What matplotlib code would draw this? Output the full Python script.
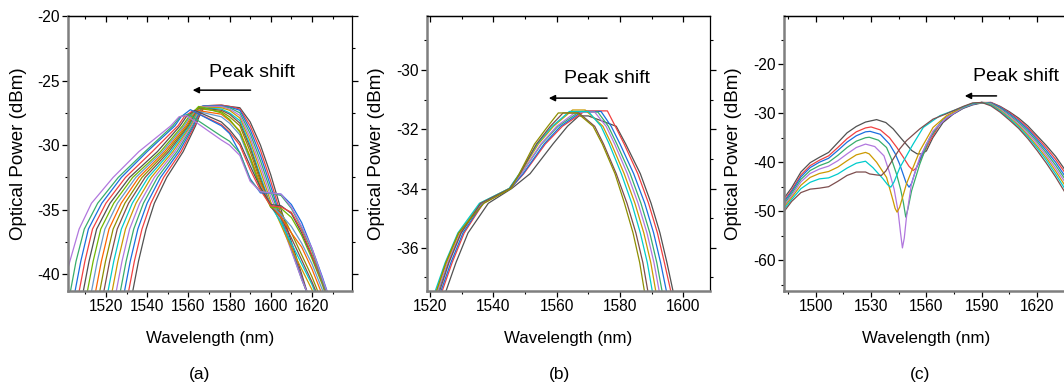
import numpy as np
import matplotlib
matplotlib.use("Agg")
import matplotlib.pyplot as plt
from matplotlib.ticker import MultipleLocator, NullFormatter

plt.rcParams['font.family'] = ['Liberation Sans', 'DejaVu Sans']
plt.rcParams['axes.unicode_minus'] = False

# Origin-style line colour cycle
colors = ['#515151', '#F14040', '#1A6FDF', '#37AD6B', '#B177DE', '#CC9900',
          '#00CBCC', '#7D4E4E', '#8E8E00', '#FB6501', '#6699CC', '#6FB802']

# === panel (a) : 17 spectra ===
# left flank: wavelength where each curve crosses these power levels
a_left_levels = [-42, -39, -36.5, -34.5, -32.5, -30.5, -28.5, -27.8]
a_left_wl = [
    [1532.2, 1535.8, 1539.5, 1543.5, 1549.5, 1557.5, 1563.5, 1565.2],
    [1530.2, 1533.8, 1537.5, 1541.8, 1548.0, 1556.5, 1563.0, 1564.8],
    [1528.2, 1531.8, 1535.5, 1540.0, 1546.5, 1555.5, 1562.5, 1564.4],
    [1526.2, 1529.8, 1533.5, 1538.2, 1545.0, 1554.5, 1562.0, 1564.0],
    [1524.2, 1527.8, 1531.5, 1536.4, 1543.5, 1553.5, 1561.5, 1563.6],
    [1522.2, 1525.8, 1529.5, 1534.6, 1542.0, 1552.5, 1561.0, 1563.2],
    [1520.2, 1523.8, 1527.5, 1532.8, 1540.5, 1551.5, 1560.5, 1562.8],
    [1518.2, 1521.8, 1525.5, 1531.0, 1539.0, 1550.5, 1560.0, 1562.4],
    [1516.2, 1519.8, 1523.5, 1529.2, 1537.5, 1549.5, 1559.5, 1562.0],
    [1514.2, 1517.8, 1521.5, 1527.4, 1536.0, 1548.5, 1558.8, 1561.4],
    [1512.2, 1515.8, 1519.5, 1525.6, 1534.5, 1547.5, 1558.0, 1560.8],
    [1510.2, 1513.8, 1517.5, 1523.8, 1533.0, 1546.5, 1557.2, 1560.2],
    [1508.2, 1511.8, 1515.5, 1522.0, 1531.5, 1545.0, 1556.0, 1559.0],
    [1506.2, 1509.8, 1513.5, 1520.0, 1529.5, 1542.5, 1555.0, 1558.0],
    [1504.2, 1507.8, 1511.5, 1518.0, 1527.5, 1540.0, 1553.5, 1556.5],
    [1502.0, 1505.5, 1509.5, 1516.0, 1526.0, 1539.0, 1552.5, 1556.0],
    [1497.5, 1502.5, 1507.0, 1513.0, 1523.5, 1536.0, 1551.5, 1555.5],
]
a_peak_wl = [1568, 1567.5, 1567, 1566.5, 1566, 1565.5, 1565, 1564.8, 1564.5,
             1564, 1563.5, 1565, 1563, 1562, 1561, 1560, 1559]
a_peak_db = [-26.95, -26.95, -26.95, -27.0, -27.0, -27.05, -27.1, -27.1, -27.15,
             -27.3, -27.35, -27.0, -27.3, -27.35, -27.25, -27.6, -27.7]
a_right_wl = [1576, 1580, 1585, 1590, 1595, 1600, 1605, 1610, 1615, 1620, 1625, 1630, 1636]
a_right_db = [
    [-26.9, -27.0, -27.1, -28.2, -30.0, -32.3, -35.0, -37.5, -40.0, -42.6, -45.5, -48.0, -50.0],
    [-26.9, -27.0, -27.2, -28.5, -30.4, -32.8, -35.4, -37.8, -40.2, -42.6, -45.2, -47.8, -50.0],
    [-26.95, -27.05, -27.3, -28.8, -30.8, -33.2, -35.7, -38.0, -40.3, -42.5, -45.0, -47.5, -50.0],
    [-27.0, -27.1, -27.5, -29.1, -31.2, -33.6, -35.8, -38.1, -40.4, -42.4, -44.8, -47.3, -50.0],
    [-27.0, -27.2, -27.7, -29.4, -31.6, -34.0, -36.0, -38.2, -40.4, -42.3, -44.6, -47.0, -50.0],
    [-27.1, -27.3, -27.9, -29.7, -32.0, -34.4, -36.2, -38.0, -39.6, -41.2, -43.5, -46.0, -49.0],
    [-27.2, -27.5, -28.1, -30.0, -32.4, -34.7, -36.0, -37.6, -39.2, -40.8, -42.8, -45.5, -48.5],
    [-27.3, -27.6, -28.3, -30.2, -32.6, -34.8, -35.6, -37.2, -38.9, -40.6, -42.5, -45.0, -48.0],
    [-27.4, -27.8, -28.5, -30.5, -32.8, -34.8, -35.2, -36.8, -38.5, -40.2, -42.2, -44.8, -48.0],
    [-27.6, -28.1, -28.9, -30.9, -33.0, -34.6, -35.6, -36.8, -37.9, -39.6, -41.6, -44.2, -47.5],
    [-27.8, -28.3, -29.2, -31.2, -33.2, -34.6, -35.4, -36.3, -37.6, -39.2, -41.2, -43.8, -47.0],
    [-27.5, -28.0, -29.0, -31.0, -33.3, -34.8, -34.9, -35.6, -37.0, -38.8, -40.8, -43.2, -46.5],
    [-28.2, -28.8, -29.8, -31.6, -33.3, -34.6, -34.7, -35.3, -36.8, -38.6, -40.6, -43.0, -46.0],
    [-28.4, -29.0, -30.0, -31.9, -33.5, -34.7, -34.8, -35.2, -36.6, -38.5, -40.6, -42.9, -46.0],
    [-28.5, -29.1, -30.6, -32.6, -33.7, -33.7, -33.8, -34.6, -36.0, -38.0, -40.2, -42.6, -45.8],
    [-29.3, -29.7, -30.6, -32.7, -33.6, -33.7, -33.9, -34.9, -36.4, -38.2, -40.5, -42.8, -46.0],
    [-29.6, -30.0, -30.8, -32.8, -33.6, -33.7, -33.8, -34.8, -36.3, -38.0, -40.3, -42.6, -45.8],
]

# === panel (b) : 9 spectra ===
b_left_levels = [-37.6, -36.5, -35.5, -34.5, -34.0, -33.5, -32.5, -31.9]
b_left_wl = [
    [1524.6, 1528.2, 1532.0, 1538.4, 1545.8, 1551.6, 1558.8, 1563.4],
    [1523.4, 1527.0, 1530.8, 1536.8, 1545.4, 1549.6, 1556.4, 1561.8],
    [1523.0, 1526.6, 1530.4, 1536.6, 1545.4, 1549.4, 1556.0, 1561.2],
    [1522.2, 1525.8, 1529.8, 1536.2, 1545.2, 1548.8, 1555.2, 1560.4],
    [1522.0, 1525.6, 1529.6, 1536.2, 1545.2, 1548.8, 1555.0, 1560.0],
    [1521.6, 1525.2, 1529.2, 1535.8, 1545.0, 1548.4, 1554.2, 1559.0],
    [1521.2, 1524.8, 1528.8, 1535.6, 1545.0, 1548.2, 1553.8, 1558.6],
    [1522.6, 1526.0, 1529.8, 1536.0, 1545.2, 1548.4, 1553.6, 1558.0],
    [1521.6, 1525.0, 1529.0, 1537.0, 1545.6, 1548.2, 1553.0, 1557.2],
]
b_top_start = [1567, 1569, 1568, 1567, 1566, 1565, 1564, 1562, 1560.5]
b_top_end = [1570, 1576, 1574, 1573, 1572, 1569, 1570, 1567, 1566.5]
b_top_db = [-31.55, -31.38, -31.4, -31.42, -31.42, -31.35, -31.4, -31.45, -31.45]
b_right_levels = [-31.9, -32.5, -33.5, -34.5, -35.5, -36.5, -37.6]
b_right_wl = [
    [1578.8, 1581.8, 1586.4, 1589.8, 1592.6, 1594.8, 1597.0],
    [1578.5, 1581.3, 1585.6, 1589.0, 1591.8, 1594.0, 1596.3],
    [1577.2, 1580.0, 1584.3, 1587.8, 1590.6, 1592.8, 1594.9],
    [1576.3, 1579.0, 1583.2, 1586.6, 1589.4, 1591.6, 1593.5],
    [1575.6, 1578.3, 1582.3, 1585.7, 1588.5, 1590.7, 1592.6],
    [1574.6, 1577.3, 1581.3, 1584.7, 1587.5, 1589.7, 1591.5],
    [1574.0, 1576.6, 1580.4, 1583.7, 1586.4, 1588.6, 1590.4],
    [1572.0, 1574.8, 1578.8, 1582.2, 1585.0, 1587.2, 1589.0],
    [1571.5, 1574.4, 1578.4, 1581.4, 1584.1, 1586.2, 1587.9],
]

# === panel (c) : 8 spectra ===
c_left_wl = [1482, 1487, 1492, 1497, 1502, 1507, 1512, 1517, 1522, 1527]
c_left_db = [
    [-47.8, -45.2, -42.0, -40.1, -39.0, -38.0, -36.0, -34.0, -32.7, -31.8],
    [-48.3, -45.7, -42.6, -40.7, -39.6, -38.7, -37.0, -35.2, -33.8, -33.0],
    [-48.6, -46.0, -43.0, -41.1, -40.0, -39.2, -37.6, -35.9, -34.6, -33.8],
    [-49.0, -46.4, -43.5, -41.7, -40.7, -40.0, -38.6, -37.0, -35.7, -35.0],
    [-49.3, -46.8, -44.0, -42.3, -41.4, -40.8, -39.7, -38.3, -37.0, -36.3],
    [-49.6, -47.2, -44.7, -43.1, -42.3, -41.9, -41.0, -39.7, -38.5, -38.0],
    [-50.0, -47.6, -45.4, -44.1, -43.4, -43.2, -42.4, -41.2, -40.2, -39.8],
    [-50.5, -48.0, -46.2, -45.5, -45.3, -45.0, -43.9, -42.7, -42.0, -42.0],
]
c_mid_wl = [
    [1533, 1538, 1542, 1546, 1549, 1552, 1555, 1557.5, 1560, 1563.5, 1569, 1574.5],
    [1530, 1535, 1540, 1544, 1547.5, 1550.5, 1552.8, 1554.5, 1556.5, 1562, 1567.3, 1572.7],
    [1529.5, 1535, 1540, 1543, 1545.5, 1549, 1550.6, 1552, 1554.6, 1560, 1565.5, 1571],
    [1529, 1534, 1538.4, 1541, 1543.8, 1546, 1547.5, 1548.8, 1550, 1552, 1556.4, 1561.8, 1569],
    [1532, 1537, 1540, 1542.5, 1544.6, 1546, 1547, 1548, 1549.2, 1551.9, 1556.4, 1563.6, 1570.9],
    [1529, 1533, 1538.4, 1541.9, 1543, 1544.1, 1545.5, 1549.2, 1556.4, 1563.6, 1570.9],
    [1531, 1536.5, 1539, 1540.7, 1542.5, 1545.6, 1552.8, 1558.3, 1567.3],
    [1529.3, 1533, 1535.6, 1538, 1541.9, 1545.5, 1549.2, 1556.4, 1563.6, 1570.9],
]
c_mid_db = [
    [-31.3, -31.9, -33.2, -35.0, -36.3, -37.6, -38.3, -38.3, -37.7, -35.0, -31.9, -30.2],
    [-32.8, -33.4, -35.0, -37.0, -39.0, -40.8, -41.7, -41.2, -39.7, -35.6, -32.2, -30.5],
    [-33.7, -34.3, -36.3, -38.2, -40.4, -44.2, -45.1, -44.3, -41.1, -36.3, -32.9, -30.9],
    [-34.9, -35.5, -37.0, -39.3, -42.4, -45.5, -48.2, -51.2, -49.5, -45.8, -40.4, -35.0, -31.2],
    [-36.8, -38.7, -42.1, -45.5, -49.9, -54.5, -57.5, -55.5, -51.2, -44.4, -39.0, -33.6, -30.9],
    [-38.3, -40.0, -43.1, -47.8, -49.4, -50.2, -49.2, -44.4, -37.7, -32.9, -30.5],
    [-41.1, -43.4, -44.6, -45.1, -44.0, -41.1, -36.3, -32.9, -30.5],
    [-42.4, -42.6, -42.7, -41.8, -39.4, -37.3, -35.6, -33.2, -31.2, -30.1],
]
c_right_wl = [1580, 1585, 1590, 1595, 1600, 1605, 1610, 1615, 1620, 1625, 1630, 1635, 1640]
c_right_db = [
    [-29.0, -28.3, -27.9, -27.8, -28.6, -29.7, -31.0, -32.6, -34.6, -36.6, -38.8, -41.5, -44.5],
    [-28.9, -28.2, -27.8, -27.8, -28.7, -29.9, -31.3, -33.0, -35.0, -37.1, -39.4, -42.1, -45.1],
    [-28.9, -28.2, -27.8, -27.9, -28.8, -30.1, -31.6, -33.3, -35.4, -37.6, -40.0, -42.8, -45.8],
    [-28.8, -28.1, -27.8, -28.0, -29.0, -30.4, -31.9, -33.7, -35.8, -38.1, -40.6, -43.4, -46.5],
    [-28.8, -28.1, -27.8, -28.1, -29.2, -30.6, -32.2, -34.1, -36.2, -38.6, -41.2, -44.0, -47.2],
    [-28.7, -28.0, -27.8, -28.2, -29.4, -30.9, -32.5, -34.5, -36.7, -39.1, -41.8, -44.7, -47.9],
    [-28.7, -28.0, -27.8, -28.3, -29.6, -31.1, -32.8, -34.8, -37.1, -39.6, -42.4, -45.4, -48.6],
    [-28.6, -27.9, -27.8, -28.5, -29.8, -31.4, -33.1, -35.2, -37.6, -40.2, -43.0, -46.1, -49.3],
]


def style_axes(ax, xmaj, xmin, ymaj, ymin):
    ax.xaxis.set_major_locator(MultipleLocator(xmaj))
    ax.xaxis.set_minor_locator(MultipleLocator(xmin))
    ax.yaxis.set_major_locator(MultipleLocator(ymaj))
    ax.yaxis.set_minor_locator(MultipleLocator(ymin))
    ax.tick_params(axis='both', which='major', direction='out', length=4, width=0.9,
                   labelsize=11.2, pad=2)
    ax.tick_params(axis='both', which='minor', direction='out', length=2.5, width=0.8)
    ax.tick_params(axis='y', which='both', right=True)
    for s in ['left', 'bottom']:
        ax.spines[s].set_color('#7f7f7f')
        ax.spines[s].set_linewidth(1.8)
    for s in ['top', 'right']:
        ax.spines[s].set_color('black')
        ax.spines[s].set_linewidth(0.9)
    # top ticks point inward
    sec = ax.secondary_xaxis('top')
    sec.xaxis.set_major_locator(MultipleLocator(xmaj))
    sec.xaxis.set_minor_locator(MultipleLocator(xmin))
    sec.xaxis.set_major_formatter(NullFormatter())
    sec.tick_params(which='major', direction='in', length=4, width=0.9)
    sec.tick_params(which='minor', direction='in', length=2.5, width=0.8)
    sec.spines['top'].set_linewidth(0.9)
    ax.set_xlabel('Wavelength (nm)', fontsize=12.2)
    ax.set_ylabel('Optical Power (dBm)', fontsize=13.5)
    ax.xaxis.set_label_coords(0.5, -0.145)


def peak_arrow(ax, x_tail, x_head, y_arrow, x_text, y_text):
    ax.annotate('', xy=(x_head, y_arrow), xytext=(x_tail, y_arrow),
                arrowprops=dict(arrowstyle='-|>', color='black', lw=1.1,
                                mutation_scale=9, shrinkA=0, shrinkB=0))
    ax.text(x_text, y_text, 'Peak shift', fontsize=14, va='center', ha='left')


fig = plt.figure(figsize=(10.64, 3.9), dpi=100)

# ---- (a)
ax1 = fig.add_axes([0.0639, 0.2538, 0.2669, 0.705])
for i in range(len(a_left_wl)):
    wl = a_left_wl[i] + [a_peak_wl[i]] + a_right_wl
    db = a_left_levels + [a_peak_db[i]] + a_right_db[i]
    ax1.plot(wl, db, color=colors[i % 12], lw=0.9)
ax1.set_xlim(1501.6, 1639.4)
ax1.set_ylim(-41.3, -20)
style_axes(ax1, 20, 10, 5, 2.5)
ax1.yaxis.set_label_coords(-0.144, 0.5)
peak_arrow(ax1, 1590.2, 1562.1, -25.74, 1569.9, -24.4)

# ---- (b)
ax2 = fig.add_axes([0.4013, 0.2538, 0.266, 0.705])
for i in range(len(b_left_wl)):
    wl = b_left_wl[i] + [b_top_start[i], b_top_end[i]] + b_right_wl[i]
    db = b_left_levels + [b_top_db[i], b_top_db[i]] + b_right_levels
    ax2.plot(wl, db, color=colors[i % 12], lw=0.9)
ax2.set_xlim(1519.05, 1608.4)
ax2.set_ylim(-37.46, -28.18)
style_axes(ax2, 20, 10, 2, 1)
ax2.yaxis.set_label_coords(-0.148, 0.5)
peak_arrow(ax2, 1575.9, 1557.5, -30.95, 1562.4, -30.28)

# ---- (c)
ax3 = fig.add_axes([0.7368, 0.2538, 0.2669, 0.705])
for i in range(len(c_left_db)):
    wl = c_left_wl + c_mid_wl[i] + c_right_wl
    db = c_left_db[i] + c_mid_db[i] + c_right_db[i]
    ax3.plot(wl, db, color=colors[i % 12], lw=0.9)
ax3.set_xlim(1482.8, 1636.7)
ax3.set_ylim(-66.3, -10.16)
style_axes(ax3, 30, 15, 10, 5)
ax3.yaxis.set_label_coords(-0.148, 0.5)
peak_arrow(ax3, 1598.0, 1580.8, -26.46, 1585.3, -22.6)

for x, lab in [(200, '(a)'), (560, '(b)'), (920, '(c)')]:
    fig.text(x / 1064, 1 - 375 / 390, lab, fontsize=12.5, ha='center', va='center')

fig.savefig('out.png', dpi=100)
